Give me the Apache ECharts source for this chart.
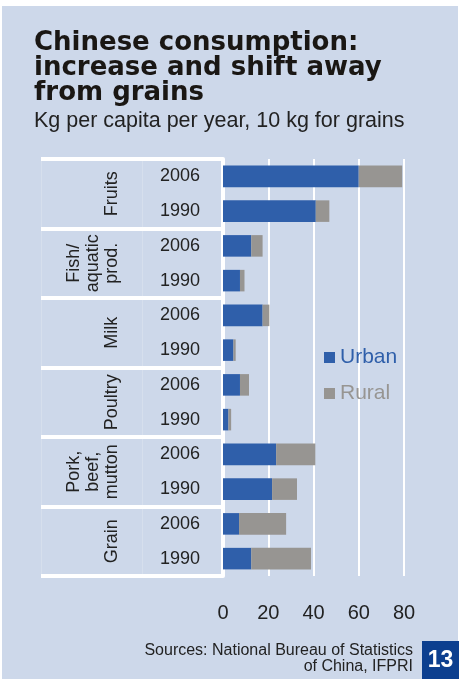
<!DOCTYPE html>
<html>
<head>
<meta charset="utf-8">
<script src="https://cdn.jsdelivr.net/npm/echarts@6/dist/echarts.min.js"></script>
<style>
  html, body { margin: 0; padding: 0; background: #fff; }
  #panel { position: absolute; left: 2px; top: 6px; right: 1px; bottom: 0; background: #cdd8ea; }
  #chart { position: absolute; left: 0; top: 0; width: 459px; height: 679px; }
</style>
</head>
<body>
<div id="panel"></div>
<div id="chart"></div>
<script>
// food groups (top to bottom) and years inside each group
var groups = ['Fruits', 'Fish/\naquatic\nprod.', 'Milk', 'Poultry', 'Pork,\nbeef,\nmutton', 'Grain'];
var years = ['2006', '1990'];
// kg per capita per year (grain in 10 kg)
var urban = [60, 41, 12.5, 7.5, 17.5, 4.6, 7.5, 2.4, 23.5, 21.7, 7.1, 12.5];
var rural = [19.2, 6, 5, 2, 3, 1, 4, 1.2, 17.3, 11, 20.8, 26.4];
var ticks = [0, 20, 40, 60, 80];

var categories = [];
groups.forEach(function (g) {
  years.forEach(function (y) { categories.push(g + '|' + y); });
});

var blue = '#2f5faa';
var grey = '#979592';
var ink = '#222';

var chart = echarts.init(document.getElementById('chart'));

var option = {
  animation: false,
  textStyle: { fontFamily: 'Liberation Sans, Arial, sans-serif' },
  title: {
    text: 'Chinese consumption:\nincrease and shift away\nfrom grains',
    subtext: 'Kg per capita per year, 10 kg for grains',
    left: 34,
    top: 31,
    padding: 0,
    itemGap: 4,
    textStyle: {
      fontFamily: 'DejaVu Sans',
      fontWeight: 'bold',
      fontSize: 26,
      lineHeight: 25,
      color: '#1a1714'
    },
    subtextStyle: {
      fontFamily: 'Liberation Sans',
      fontSize: 21.5,
      lineHeight: 21,
      color: ink
    }
  },
  legend: {
    orient: 'vertical',
    left: 324,
    top: 347,
    padding: 0,
    itemWidth: 11,
    itemHeight: 11,
    itemGap: 15,
    icon: 'rect',
    textStyle: { fontSize: 21, lineHeight: 21 },
    data: [
      { name: 'Urban', textStyle: { color: blue } },
      { name: 'Rural', textStyle: { color: grey } }
    ]
  },
  grid: [
    { left: 223, right: 55, top: 159, bottom: 103 },
    // table lines on the left
    { left: 41, right: 236, top: 159, bottom: 103 }
  ],
  xAxis: [
    {
      gridIndex: 0,
      type: 'value',
      min: ticks[0],
      max: ticks[ticks.length - 1],
      interval: 20,
      axisLine: { show: false },
      axisTick: { show: false },
      splitLine: { lineStyle: { color: '#fff', width: 2 } },
      axisLabel: { fontSize: 20, color: ink, margin: 27 }
    },
    // faint column divider between group names and years
    {
      gridIndex: 1, type: 'value', min: 0, max: 182, interval: 101,
      axisLine: { show: false }, axisTick: { show: false }, axisLabel: { show: false },
      splitLine: { show: true, lineStyle: { color: 'rgba(255,255,255,0.18)', width: 1 } }
    }
  ],
  yAxis: [
    {
      gridIndex: 0,
      type: 'category',
      inverse: true,
      data: categories,
      offset: 2,
      axisLine: { lineStyle: { color: '#fff', width: 4 } },
      axisTick: { show: false },
      axisLabel: {
        interval: 0,
        fontSize: 18,
        color: ink,
        margin: 21,
        formatter: function (v) { return v.split('|')[1]; }
      }
    },
    {
      gridIndex: 0,
      type: 'category',
      inverse: true,
      position: 'left',
      offset: 97,
      data: groups,
      axisLine: { show: false },
      axisTick: { show: false },
      axisLabel: { interval: 0, rotate: 90, fontSize: 18, lineHeight: 19, color: ink, margin: 4 }
    },
    {
      gridIndex: 1,
      type: 'category',
      inverse: true,
      data: groups,
      axisLine: { show: false },
      axisTick: { show: false },
      axisLabel: { show: false },
      splitLine: { show: true, lineStyle: { color: '#fff', width: 4 } }
    }
  ],
  series: [
    {
      name: 'Urban',
      type: 'bar',
      stack: 'total',
      barWidth: '62%',
      itemStyle: { color: blue },
      data: urban
    },
    {
      name: 'Rural',
      type: 'bar',
      stack: 'total',
      itemStyle: { color: grey },
      data: rural
    }
  ],
  graphic: [
    {
      type: 'text',
      x: 413,
      y: 643,
      style: {
        text: 'Sources: National Bureau of Statistics\nof China, IFPRI',
        align: 'right',
        verticalAlign: 'top',
        fontFamily: 'Liberation Sans',
        fontSize: 16,
        lineHeight: 16,
        fill: ink
      }
    },
    {
      type: 'group',
      left: 422,
      top: 641,
      children: [
        { type: 'rect', shape: { x: 0, y: 0, width: 37, height: 38 }, style: { fill: '#0c3f8f' } },
        {
          type: 'text',
          x: 18.5,
          y: 20,
          style: {
            text: '13',
            align: 'center',
            verticalAlign: 'middle',
            fontFamily: 'Liberation Sans',
            fontWeight: 'bold',
            fontSize: 23,
            fill: '#fff'
          }
        }
      ]
    }
  ]
};

chart.setOption(option);
</script>
</body>
</html>
